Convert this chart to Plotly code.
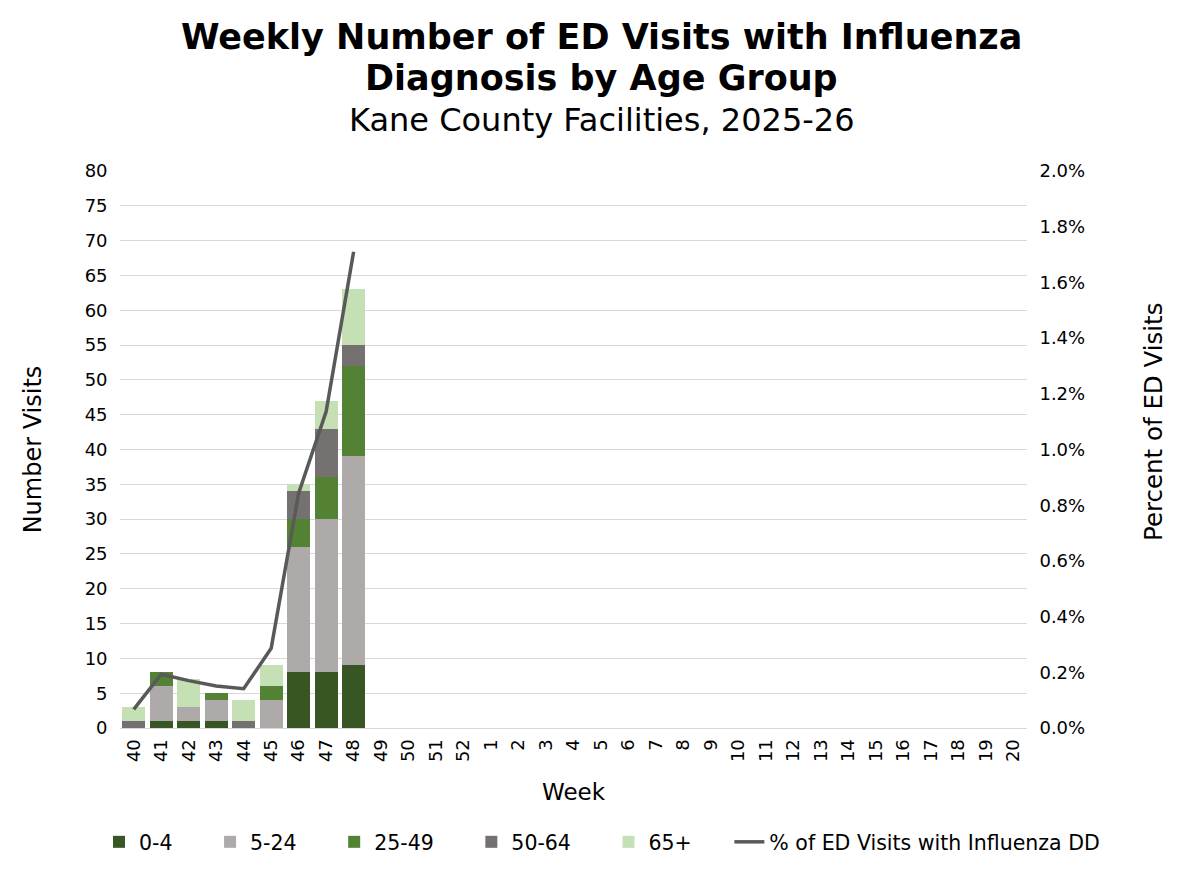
import plotly.graph_objects as go

weeks = ['40', '41', '42', '43', '44', '45', '46', '47', '48', '49', '50', '51', '52',
         '1', '2', '3', '4', '5', '6', '7', '8', '9', '10', '11', '12', '13', '14',
         '15', '16', '17', '18', '19', '20']

age_0_4 = [0, 1, 1, 1, 0, 0, 8, 8, 9]
age_5_24 = [0, 5, 2, 3, 0, 4, 18, 22, 30]
age_25_49 = [0, 2, 0, 1, 0, 2, 4, 6, 13]
age_50_64 = [1, 0, 0, 0, 1, 0, 4, 7, 3]
age_65_plus = [2, 0, 4, 0, 3, 3, 1, 4, 8]
pct_flu = [0.00067, 0.00193, 0.0017, 0.00151, 0.00141, 0.00286, 0.00843, 0.01136, 0.0171]

series = [
    ('0-4', age_0_4, '#375623'),
    ('5-24', age_5_24, '#AEAAAA'),
    ('25-49', age_25_49, '#548235'),
    ('50-64', age_50_64, '#767171'),
    ('65+', age_65_plus, '#C5E0B4'),
]

font = 'DejaVu Sans'
pad = '\u00a0' * 5  # extra room between legend entries
fig = go.Figure()

for name, vals, color in series:
    fig.add_trace(go.Bar(x=weeks[:len(vals)], y=vals, name=name + pad,
                         marker=dict(color=color, line=dict(width=0))))

fig.add_trace(go.Scatter(x=weeks[:len(pct_flu)], y=pct_flu, yaxis='y2',
                         name='% of ED Visits with Influenza DD', mode='lines',
                         line=dict(color='#595959', width=3.5)))

# page body adds 8px offset, so margins are shifted by 8
fig.update_layout(
    width=1200, height=872,
    margin=dict(l=112, r=181, t=163, b=152, autoexpand=False),
    paper_bgcolor='white', plot_bgcolor='white',
    barmode='stack', bargap=0.17,
    font=dict(family=font, color='#000000', size=18),
    showlegend=True,
    # anchored right of the plot so the single row may be wider than the plot area
    legend=dict(orientation='h', x=(1097 - 112) / 907, xanchor='right',
                y=(720 - 834) / 557, yanchor='middle',
                traceorder='normal', font=dict(size=20.5), itemwidth=30),
    xaxis=dict(type='category', categoryorder='array', categoryarray=weeks,
               range=[-0.5, len(weeks) - 0.5], tickangle=-90,
               showline=True, linecolor='#D9D9D9', linewidth=1,
               ticks='', ticklabelstandoff=3,
               title=dict(text='Week', font=dict(size=23), standoff=22)),
    yaxis=dict(range=[0, 80], dtick=5, showgrid=True, gridcolor='#D9D9D9',
               zeroline=False, ticks='', ticksuffix='  ',
               title=dict(text='Number Visits', font=dict(size=24), standoff=36)),
    yaxis2=dict(overlaying='y', side='right', range=[0, 0.02], dtick=0.002,
                tickformat='.1%', showgrid=False, zeroline=False, ticks='',
                tickprefix='  '),
    annotations=[
        dict(text='<b>Weekly Number of ED Visits with Influenza</b>', xref='paper', yref='paper',
             x=0.531, y=(720 - 29) / 557, xanchor='center', yanchor='middle', showarrow=False,
             font=dict(size=35, family=font)),
        dict(text='<b>Diagnosis by Age Group</b>', xref='paper', yref='paper',
             x=0.531, y=(720 - 70) / 557, xanchor='center', yanchor='middle', showarrow=False,
             font=dict(size=35, family=font)),
        dict(text='Kane County Facilities, 2025-26', xref='paper', yref='paper',
             x=0.531, y=(720 - 112) / 557, xanchor='center', yanchor='middle', showarrow=False,
             font=dict(size=32, family=font)),
        dict(text='Percent of ED Visits', xref='paper', yref='paper', textangle=-90,
             x=(1145 - 112) / 907, y=(720 - 414) / 557, xanchor='center', yanchor='middle',
             showarrow=False, font=dict(size=24.5, family=font)),
    ],
)

fig.write_html('out.html')
